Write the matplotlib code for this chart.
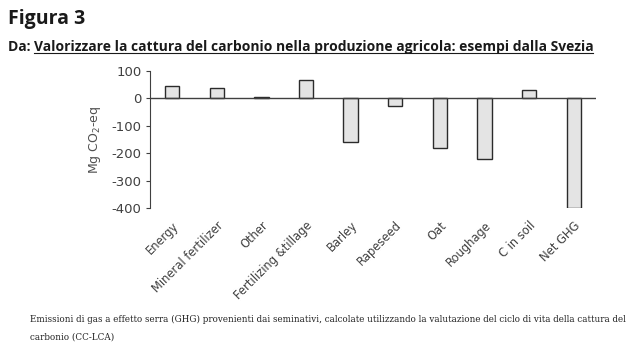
import matplotlib
matplotlib.use("Agg")
import matplotlib.pyplot as plt

categories = ["Energy", "Mineral fertilizer", "Other", "Fertilizing &tillage", "Barley",
              "Rapeseed", "Oat", "Roughage", "C in soil", "Net GHG"]
values = [45, 36, 4, 68, -159, -28, -180, -220, 29, -400]
yticks = [100, 0, -100, -200, -300, -400]

fig = plt.figure(figsize=(6.43, 3.53), dpi=100)
ax = fig.add_axes([0.233, 0.411, 0.694, 0.388])

x = list(range(len(categories)))
ax.bar(x, values, width=0.32, color="#e4e4e4", edgecolor="#2b2b2b", linewidth=1.0, zorder=3)
ax.axhline(0, color="#404040", linewidth=1.0, zorder=4)

ax.set_xlim(-0.5, len(categories) - 0.5)
ax.set_ylim(-400, 100)
ax.set_yticks(yticks)
ax.set_yticklabels([str(v) for v in yticks], fontsize=9.5, color="#404040")
ax.tick_params(axis="y", length=3, color="#404040", pad=3)
ax.set_xticks(x)
ax.set_xticklabels(categories, rotation=45, ha="right", rotation_mode="anchor",
                   fontsize=8.3, color="#404040")
ax.tick_params(axis="x", length=0, pad=8)
for s in ["top", "right", "bottom"]:
    ax.spines[s].set_visible(False)
ax.spines["left"].set_color("#404040")
ax.set_ylabel("Mg CO$_2$-eq", fontsize=9, color="#505050", labelpad=6)

fig.text(0.012, 0.975, "Figura 3", fontsize=14, fontweight="bold", family="Open Sans",
         va="top", color="#1a1a1a")
base_y = 0.855
t1 = fig.text(0.012, base_y, "Da: ", fontsize=10, fontweight="bold", family="Open Sans",
              va="baseline", color="#1a1a1a")
fig.canvas.draw()
r = fig.canvas.get_renderer()
bb = t1.get_window_extent(r)
t2 = fig.text(bb.x1 / fig.bbox.width, base_y,
              "Valorizzare la cattura del carbonio nella produzione agricola: esempi dalla Svezia",
              fontsize=10, fontweight="bold", family="Open Sans", va="baseline", color="#1a1a1a")
bb2 = t2.get_window_extent(r)
uy = base_y - 2.0 / fig.bbox.height
fig.add_artist(plt.Line2D([bb2.x0 / fig.bbox.width, bb2.x1 / fig.bbox.width],
                          [uy, uy], color="#1a1a1a", linewidth=0.8))

fig.text(0.047, 0.095,
         "Emissioni di gas a effetto serra (GHG) provenienti dai seminativi, calcolate utilizzando la valutazione del ciclo di vita della cattura del",
         fontsize=6.3, family="DejaVu Serif", va="center", color="#222222")
fig.text(0.047, 0.045, "carbonio (CC-LCA)", fontsize=6.3, family="DejaVu Serif",
         va="center", color="#222222")

fig.savefig("out.png", dpi=100)
